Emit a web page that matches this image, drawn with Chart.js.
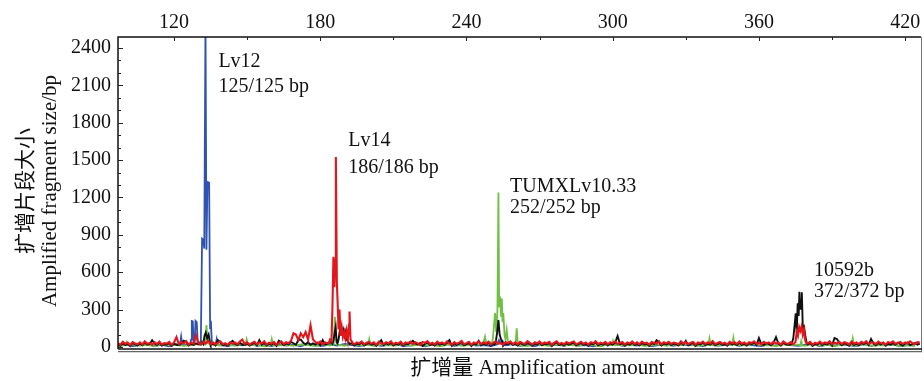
<!DOCTYPE html>
<html>
<head>
<meta charset="utf-8">
<script src="https://cdn.jsdelivr.net/npm/chart.js@4/dist/chart.umd.min.js"></script>
<style>
html,body{margin:0;padding:0;background:#fff;}
#wrap{width:924px;height:381px;}
</style>
</head>
<body>
<div id="wrap"><canvas id="c" width="924" height="381"></canvas></div>
<script>
// ---------- axis ticks ----------
const xTicks = [120, 180, 240, 300, 360, 420];
const xMinorTicks = [150, 210, 270, 330, 390];
const yTicks = [0, 300, 600, 900, 1200, 1500, 1800, 2100, 2400];
const yMinorTicks = [100, 200, 400, 500, 700, 800, 1000, 1100, 1300, 1400, 1600, 1700, 1900, 2000, 2200, 2300];

// ---------- baselines ----------
const bpStart = 97;          // first base position of every baseline
const redStep = 1, blackStep = 1, blueStep = 3, greenStep = 3;

const redBase = [
 30,18,42,25,35,15,40,28,22,38,
 20,45,26,33,17,39,24,44,19,31,
 27,41,16,36,80,22,38,29,47,18,
 35,26,95,30,21,43,28,50,24,37,
 19,34,46,23,31,17,40,27,36,22,
 44,60,25,38,18,33,42,21,37,28,
 46,20,35,26,41,17,32,45,24,38,
 30,50,110,100,55,110,80,120,60,175,
 60,40,28,45,22,36,30,55,40,35,
 42,30,38,25,48,33,40,22,37,29,
 45,20,34,41,26,38,17,43,30,24,
 39,28,46,21,35,27,42,18,36,31,
 44,23,38,29,16,40,33,47,25,34,
 20,42,28,37,24,45,30,19,39,26,
 35,48,22,31,41,17,36,29,44,23,
 38,27,43,20,34,46,25,32,18,40,
 29,45,24,37,21,42,31,26,47,33,
 19,38,28,44,23,36,30,41,17,35,
 46,25,33,22,40,28,37,45,20,31,
 42,26,36,18,39,30,47,23,34,27,
 41,21,38,29,45,24,32,40,19,36,
 28,44,25,37,22,43,30,35,18,40,
 33,26,46,21,38,29,42,24,36,31,
 20,45,27,39,23,34,41,18,37,30,
 44,25,36,28,47,22,33,40,26,35,
 19,42,30,38,24,45,27,36,21,39,
 32,46,25,34,20,41,29,37,23,43,
 28,35,19,44,31,26,40,22,38,30,
 45,24,36,29,41,18,34,27,43,25,
 37,30,46,21,35,28,42,24,39,32,
 20,44,27,36,23,41,30,47,25,34,
 38,22,43,29,35,19,40,31,45,26,
 33,41,24,37,28,46,30,22,39,35
];

const blackBase = [
 22,10,30,15,25,8,33,20,12,28,
 14,35,18,24,55,28,16,36,11,24,
 19,32,9,27,18,14,30,50,38,12,
 26,17,30,22,14,35,60,38,16,28,
 12,55,36,15,22,10,31,50,27,14,
 35,20,16,29,11,24,33,13,55,19,
 37,12,26,18,32,10,50,36,15,29,
 21,40,30,18,56,60,34,22,40,18,
 30,20,36,14,55,21,25,40,30,28,
 33,21,29,16,39,24,31,13,28,20,
 36,12,25,32,17,29,10,34,55,15,
 30,19,37,12,26,18,33,10,27,22,
 35,50,29,20,32,8,24,38,16,25,
 11,33,19,28,15,36,55,10,30,17,
 26,39,13,22,32,8,27,20,50,14,
 29,18,34,11,25,37,16,23,9,31,
 20,36,15,28,12,33,22,17,38,24,
 10,29,19,35,14,27,21,32,8,26,
 37,16,24,13,31,19,28,36,11,22,
 33,17,27,9,30,21,38,14,25,18,
 32,12,29,20,36,88,23,31,10,27,
 19,35,16,28,13,34,21,26,9,31,
 24,55,37,12,29,20,33,15,27,22,
 11,36,18,50,14,25,32,9,28,21,
 35,16,27,19,38,13,24,31,17,26,
 10,33,21,29,15,36,18,27,12,30,
 23,37,16,72,22,17,31,25,14,34,
 80,26,10,35,22,17,31,13,29,21,
 36,15,27,20,32,9,25,18,34,16,
 28,21,37,12,72,65,33,15,30,23,
 11,35,18,27,14,32,22,38,16,65,
 29,13,33,20,36,10,26,19,30,17,
 34,22,12,28,37,16,24,31,19,27
];

const blueBase = [
 12,20,8,16,24,10,18,6,22,14,
 9,19,26,11,15,7,21,13,25,10,
 17,8,23,12,19,6,27,14,9,20,
 11,24,16,7,18,22,10,15,25,8,
 13,21,6,19,12,26,9,17,23,11,
 15,7,20,14,24,10,18,8,22,13,
 19,9,25,12,16,6,21,14,27,10,
 17,11,23,8,15,20,9,24,13,18,
 7,22,12,16,26,10,19,14,8,21,
 11,25,15,9,18,23,7,17,12,20,
 14,8,24,10,19,13,22,6,16,11
];

const greenBase = [
 8,15,22,11,18,6,25,13,20,9,
 16,24,7,19,12,21,10,26,14,17,
 6,23,11,18,9,20,15,8,24,12,
 19,10,27,13,16,7,22,14,11,25,
 9,18,12,21,6,17,24,10,15,20,
 13,8,26,11,19,14,7,23,16,10,
 22,12,18,9,25,15,6,20,13,17,
 11,24,8,16,21,10,19,14,27,7,
 15,20,12,23,9,18,11,26,13,16,
 8,21,14,19,10,25,12,17,6,22,
 18,11,24,9,16,13,20,7,15,10
];

// ---------- peaks: [bp, height] ----------
const redPeaks = [
 [[183.5,35],[184.0,60],[184.6,45],[185.0,320],[185.4,725],[185.8,480],[186.1,700],[186.4,1525],[186.8,520],[187.2,320],[187.5,140],[187.9,300],[188.3,90],[188.8,160],[189.3,80],[189.8,120],[190.3,70],[190.8,130],[191.3,60],[191.8,180],[192.0,285],[192.4,60],[192.9,45],[193.4,30]],
 [[374.5,30],[375.0,40],[375.5,120],[376.0,90],[376.5,160],[377.0,130],[377.5,165],[378.0,100],[378.5,140],[379.0,50],[379.5,30]]
];
const blackPeaks = [
 [[131.0,20],[131.5,40],[132.0,25],[132.5,90],[133.0,115],[133.6,70],[134.2,100],[134.8,30]],
 [[185.0,25],[185.5,60],[186.0,130],[186.3,160],[186.7,40],[187.1,30],[187.5,60],[188.0,130],[188.4,110],[188.8,140],[189.2,100],[189.6,135],[190.0,90],[190.4,120],[190.8,60],[191.5,40]],
 [[251.5,20],[252.0,40],[252.6,120],[253.1,217],[253.6,100],[254.2,60],[254.8,30]],
 [[373.0,20],[373.5,30],[374.1,70],[375.1,270],[375.5,115],[375.9,350],[376.3,250],[376.6,444],[377.0,300],[377.3,380],[377.6,440],[378.0,150],[378.5,163],[379.1,80],[379.6,35]]
];
const bluePeaks = [
 [[122.4,15],[122.9,83],[123.4,15]],
 [[126.6,25],[127.0,60],[127.3,208],[127.7,205],[128.0,40],[128.5,50],[128.8,210],[129.3,200],[129.7,45],[130.5,30],[131.0,50],[131.5,870],[132.0,860],[132.4,790],[132.9,2600],[133.3,780],[133.7,1325],[134.4,1320],[134.8,150],[135.1,210],[135.5,40],[136.0,20]],
 [[137.0,15],[137.5,64],[138.0,15]],
 [[252.5,20],[253.3,56],[254.0,30],[254.8,50],[255.5,20]]
];
const greenPeaks = [
 [[100.1,15],[100.6,40],[101.1,15]],
 [[132.8,20],[133.3,176],[133.8,30]],
 [[149.3,15],[149.8,60],[150.3,15]],
 [[159.6,15],[160.1,64],[160.6,15]],
 [[185.5,20],[186.0,243],[186.4,120],[186.8,20]],
 [[199.6,15],[200.1,64],[200.6,15]],
 [[246.8,20],[247.6,83],[248.2,20],[249.7,40],[250.6,30],[251.1,130],[251.7,272],[252.2,120],[252.7,300],[253.1,1240],[253.4,320],[253.8,404],[254.2,250],[254.5,390],[254.8,200],[255.1,272],[255.6,100],[256.0,60],[256.5,136],[257.0,40],[258.0,25],[259.5,20],[260.2,40],[260.6,150],[261.0,40],[261.6,20]],
 [[299.6,15],[300.1,50],[300.6,15]],
 [[339.2,15],[339.7,70],[340.2,15]],
 [[349.0,15],[349.5,75],[350.0,15]],
 [[377.0,15],[377.3,45],[377.6,15]],
 [[398.0,15],[398.5,70],[399.0,15]]
];

// ---------- peak labels ----------
const labelNames = ['Lv12', 'Lv14', 'TUMXLv10.33', '10592b'];
const labelSizes = ['125/125 bp', '186/186 bp', '252/252 bp', '372/372 bp'];
const labelBp = [138.2, 191.5, 257.9, 382.6];
const labelNameY = [2250, 1613, 1247, 570];
const labelSizeY = [2049, 1399, 1078, 404];

const xTitle = '扩增量 Amplification amount';
const yTitleLines = ['扩增片段大小', 'Amplified fragment size/bp'];

// ---------- assemble points ----------
function buildSeries(base, start, step, segments) {
  const pts = [];
  base.forEach((y, i) => {
    const x = start + i * step;
    const covered = segments.some(s => x >= s[0][0] && x <= s[s.length - 1][0]);
    if (!covered) pts.push({x, y});
  });
  segments.forEach(s => s.forEach(([x, y]) => pts.push({x, y})));
  pts.sort((a, b) => a.x - b.x);
  return pts;
}

const FONT = "'Liberation Serif', 'Times New Roman', 'Noto Sans CJK SC', serif";

const framePlugin = {
  id: 'frame',
  afterDraw(chart) {
    const {ctx, chartArea: ca, scales} = chart;
    const xs = scales.x, ys = scales.y;
    ctx.save();
    // frame
    ctx.strokeStyle = '#111';
    ctx.lineWidth = 1.5;
    ctx.beginPath();
    ctx.moveTo(ca.left, ca.bottom); ctx.lineTo(ca.left, ca.top); ctx.lineTo(ca.right, ca.top);
    ctx.stroke();
    ctx.strokeStyle = '#777';
    ctx.lineWidth = 1;
    ctx.beginPath();
    ctx.moveTo(ca.right + 0.5, ca.top); ctx.lineTo(ca.right + 0.5, ca.bottom + 3);
    ctx.stroke();
    ctx.strokeStyle = '#111';
    ctx.lineWidth = 1.6;
    ctx.beginPath();
    ctx.moveTo(ca.left, ca.bottom); ctx.lineTo(ca.right + 1, ca.bottom);
    ctx.stroke();
    ctx.strokeStyle = '#666';
    ctx.lineWidth = 1.2;
    ctx.beginPath();
    ctx.moveTo(ca.left, ca.bottom + 2.6); ctx.lineTo(ca.right + 1, ca.bottom + 2.6);
    ctx.stroke();
    // inward ticks
    ctx.strokeStyle = '#222';
    ctx.lineWidth = 1;
    ctx.beginPath();
    xTicks.forEach(v => { const p = Math.round(xs.getPixelForValue(v)) + 0.5; ctx.moveTo(p, ca.top); ctx.lineTo(p, ca.top + 4); });
    xMinorTicks.forEach(v => { const p = Math.round(xs.getPixelForValue(v)) + 0.5; ctx.moveTo(p, ca.top); ctx.lineTo(p, ca.top + 3); });
    yTicks.forEach(v => { const p = Math.round(ys.getPixelForValue(v)) + 0.5; ctx.moveTo(ca.left, p); ctx.lineTo(ca.left + 5, p); });
    yMinorTicks.forEach(v => { const p = Math.round(ys.getPixelForValue(v)) + 0.5; ctx.moveTo(ca.left, p); ctx.lineTo(ca.left + 3, p); });
    ctx.stroke();
    // peak labels
    ctx.fillStyle = '#111';
    ctx.font = "20px " + FONT;
    ctx.textAlign = 'left';
    ctx.textBaseline = 'alphabetic';
    labelNames.forEach((t, i) => {
      const px = xs.getPixelForValue(labelBp[i]);
      ctx.fillText(t, px, ys.getPixelForValue(labelNameY[i]));
      ctx.fillText(labelSizes[i], px, ys.getPixelForValue(labelSizeY[i]));
    });
    // axis titles
    ctx.font = "21px " + FONT;
    ctx.textAlign = 'center';
    ctx.textBaseline = 'middle';
    ctx.fillText(xTitle, (ca.left + ca.right) / 2 + 18, ca.bottom + 19);
    const cy = (ca.top + ca.bottom) / 2 - 2;
    ctx.translate(26, cy);
    ctx.rotate(-Math.PI / 2);
    ctx.fillText(yTitleLines[0], 0, 0);
    ctx.translate(0, 24);
    ctx.fillText(yTitleLines[1], 0, 0);
    ctx.restore();
  }
};

const common = {pointRadius: 0, tension: 0, fill: false, clip: 0, borderJoinStyle: 'miter'};

new Chart(document.getElementById('c'), {
  type: 'line',
  data: {
    datasets: [
      Object.assign({label: 'red', data: buildSeries(redBase, bpStart, redStep, redPeaks), borderColor: '#e3161c', borderWidth: 2.1, order: 1}, common),
      Object.assign({label: 'black', data: buildSeries(blackBase, bpStart, blackStep, blackPeaks), borderColor: '#111111', borderWidth: 1.9, order: 2}, common),
      Object.assign({label: 'green', data: buildSeries(greenBase, bpStart, greenStep, greenPeaks), borderColor: '#6fc043', borderWidth: 1.8, order: 3}, common),
      Object.assign({label: 'blue', data: buildSeries(blueBase, bpStart, blueStep, bluePeaks), borderColor: '#3053b2', borderWidth: 1.8, order: 4}, common)
    ]
  },
  options: {
    responsive: false,
    animation: false,
    devicePixelRatio: 1,
    layout: {padding: {left: 0, right: 3, top: 0, bottom: 32}},
    plugins: {legend: {display: false}, tooltip: {enabled: false}},
    scales: {
      x: {
        type: 'linear', position: 'top', min: 97, max: 426.5,
        grid: {display: false, drawTicks: false},
        border: {display: false},
        ticks: {font: {family: FONT, size: 20}, color: '#111', padding: 2, maxRotation: 0, autoSkip: false,
                callback: v => String(v)},
        afterBuildTicks: s => { s.ticks = xTicks.map(v => ({value: v})); },
        afterFit: s => { s.height = 37; }
      },
      y: {
        type: 'linear', position: 'left', min: -16, max: 2488,
        grid: {display: false, drawTicks: false},
        border: {display: false},
        ticks: {font: {family: FONT, size: 20}, color: '#111', padding: 7, autoSkip: false,
                callback: v => String(v)},
        afterBuildTicks: s => { s.ticks = yTicks.map(v => ({value: v})); },
        afterFit: s => { s.width = 118; }
      }
    }
  },
  plugins: [framePlugin]
});
</script>
</body>
</html>
